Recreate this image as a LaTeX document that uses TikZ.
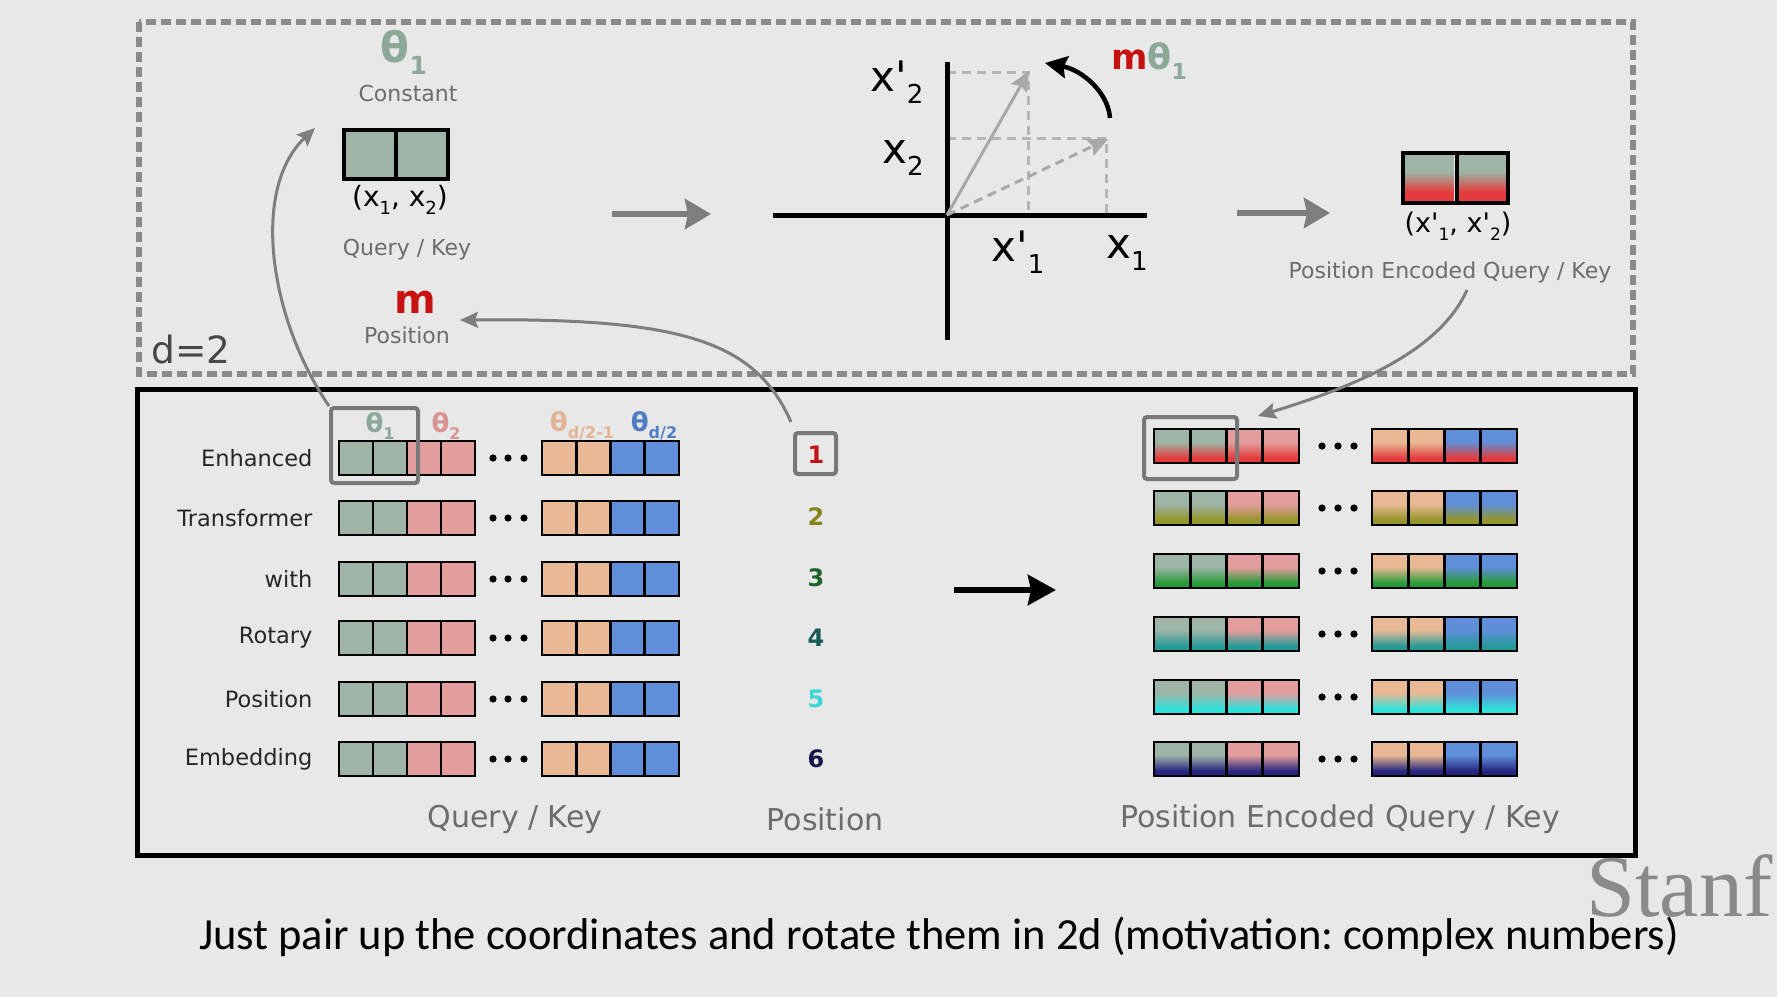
\documentclass[tikz,border=0pt]{standalone}
\usepackage{fontspec}
\setmainfont{DejaVu Sans}
\newfontfamily\capfont{Carlito}
\newfontfamily\serfont{Liberation Serif}
\usetikzlibrary{arrows.meta,calc}
\frenchspacing
\definecolor{bg}{HTML}{E7E8E7}
\definecolor{cg}{HTML}{9DB4A6}
\definecolor{cp}{HTML}{E49D9D}
\definecolor{ct}{HTML}{E8B994}
\definecolor{cb}{HTML}{5F8FD8}
\definecolor{g1}{HTML}{E43C3C}
\definecolor{g2}{HTML}{95952A}
\definecolor{g3}{HTML}{269A36}
\definecolor{g4}{HTML}{259A98}
\definecolor{g5}{HTML}{2EE2DC}
\definecolor{g6}{HTML}{25257E}
\definecolor{n1}{HTML}{C01515}
\definecolor{n2}{HTML}{85851A}
\definecolor{n3}{HTML}{1C6428}
\definecolor{n4}{HTML}{185A55}
\definecolor{n5}{HTML}{3CD6D6}
\definecolor{n6}{HTML}{15154A}
\definecolor{thg}{HTML}{8CA898}
\definecolor{thp}{HTML}{D99393}
\definecolor{tht}{HTML}{E2B496}
\definecolor{thb}{HTML}{4F7FC2}
\definecolor{mred}{HTML}{C81212}
\definecolor{lblc}{HTML}{6C6C6C}
\definecolor{arrc}{HTML}{7E7E7E}
\definecolor{selc}{HTML}{787878}
\definecolor{guidec}{HTML}{B4B6B4}
\definecolor{vecc}{HTML}{A6A9A6}
\definecolor{wmc}{HTML}{8A8A8A}
\newcommand\fsz[1]{\fontsize{#1}{#1}\selectfont}
\newcommand\lowr[2]{\raisebox{-0.28em}{\fontsize{#1}{#1}\selectfont #2}}
\tikzset{
  cellb/.style={draw=black, line width=2.6pt},
  toplbl/.style={text=lblc, font=\fsz{22}},
  botlbl/.style={text=lblc, font=\fsz{30}},
  rowlbl/.style={text=black!85, font=\fsz{22.5}, anchor=east},
  numlbl/.style={font=\fsz{24}\bfseries},
  conn/.style={draw=arrc, line width=3pt, -{Stealth[length=18pt,width=16pt,inset=3pt]}},
  fat/.style={draw=arrc, line width=6pt, -{Stealth[length=26pt,width=30pt,inset=3pt]}},
  selbox/.style={draw=selc, line width=4pt, rounded corners=3pt},
  guide/.style={draw=guidec, line width=3pt, dash pattern=on 9pt off 6pt},
  axis/.style={draw=black, line width=5pt},
  axlbl/.style={font=\fsz{42}},
}
\begin{document}
\begin{tikzpicture}[x=1pt,y=-1pt]
\fill[bg] (0,0) rectangle (1777,997);
\useasboundingbox (0,0) rectangle (1777,997);
% frames
\draw[draw=wmc, line width=5.5pt, dash pattern=on 10pt off 5pt] (139,22) rectangle (1633,374);
\draw[line width=5pt] (137,389) rectangle (1635,855);
% ---------- top part
\node[text=thg, font=\fsz{42}\bfseries] (th1) at (404,52) {θ\lowr{25}{1}};
\node[toplbl] (const) at (408,93) {Constant};
\fill[cg] (344,130) rectangle (448,179);
\draw[line width=3.5pt] (344,130) rectangle (448,179) (396,130) -- (396,179);
\node[font=\fsz{28}] (xx) at (400,200) {(x\lowr{18}{1}, x\lowr{18}{2})};
\node[toplbl] (qk) at (407,250) {Query / Key};
\node[text=mred, font=\fsz{40}\bfseries] (m) at (415,302) {m};
\node[toplbl] (pos) at (407,335) {Position};
\node[text=black!72, font=\fsz{37.5}] (d2) at (191,350) {d=2};
\coordinate (a1s) at (612,214); \coordinate (a1e) at (711,214);
\draw[fat] (a1s) -- (a1e);
% axes
\coordinate (O) at (947,215);
\coordinate (P) at (1108,139);
\coordinate (Q) at (1029,71);
\draw[guide] (947,72) -- (1028,72) -- (1028,215);
\draw[guide] (947,138) -- (1106,138) -- (1106,215);
\draw[axis] (773,215) -- (1147,215);
\draw[axis] (947,62) -- (947,340);
\draw[draw=vecc, line width=3pt, dash pattern=on 9pt off 6pt, -{Stealth[length=20pt,width=18pt,inset=3pt]}] (O) -- (P);
\draw[draw=vecc, line width=3pt, -{Stealth[length=20pt,width=18pt,inset=3pt]}] (O) -- (Q);
\node[axlbl] (lx2p) at (897,82) {x\textquotesingle\lowr{26}{2}};
\node[axlbl] (lx2) at (903,158) {x\lowr{26}{2}};
\node[axlbl] (lx1p) at (1018,252) {x\textquotesingle\lowr{26}{1}};
\node[axlbl] (lx1) at (1127,253) {x\lowr{26}{1}};
\coordinate (rs) at (1110,118); \coordinate (re) at (1045,63);
\draw[line width=4.5pt, -{Stealth[length=22pt,width=22pt,inset=3pt]}] (rs) .. controls (1108,92) and (1082,70) .. (re);
\node[font=\fsz{35}\bfseries] (mth) at (1149,61) {\textcolor{mred}{m}\textcolor{thg}{θ\lowr{22}{1}}};
\coordinate (a2s) at (1237,213); \coordinate (a2e) at (1330,213);
\draw[fat] (a2s) -- (a2e);
\foreach \xx in {1403,1457}{
  \fill[cg] (\xx,153) rectangle ++(51,50);
  \shade[top color=cg, bottom color=g1] (\xx,172) rectangle ++(51,20);
  \fill[g1] (\xx,192) rectangle ++(51,11);
}
\draw[line width=3.5pt] (1403,153) rectangle (1508,203) (1457,153) -- (1457,203);
\node[font=\fsz{27}] (xxp) at (1458,226) {(x\textquotesingle\lowr{17}{1}, x\textquotesingle\lowr{17}{2})};
\node[toplbl] (peqk) at (1450,272) {Position Encoded Query / Key};
% ---------- bottom part: left vectors
\foreach \lab/\y in {Enhanced/458,Transformer/518,with/579,Rotary/638,Position/699,Embedding/759}{
  \node[rowlbl] at (316,\y) {\lab};
  \foreach \c [count=\i from 0] in {cg,cg,cp,cp}{
    \filldraw[fill=\c, cellb] ({339+34*\i},\y-17) rectangle ++(34,34);
  }
  \foreach \c [count=\i from 0] in {ct,ct,cb,cb}{
    \filldraw[fill=\c, cellb] ({542+34.25*\i},\y-17) rectangle ++(34.25,34);
  }
  \foreach \dx in {493,508,524}{ \fill (\dx,\y) circle (3.6pt); }
}
\node[text=thg, font=\fsz{26}\bfseries] at (380,426) {θ\lowr{16}{1}};
\node[text=thp, font=\fsz{26}\bfseries] at (446,426) {θ\lowr{16}{2}};
\node[text=tht, font=\fsz{26}\bfseries] at (582,426) {θ\lowr{16}{d/2-1}};
\node[text=thb, font=\fsz{26}\bfseries] at (654,426) {θ\lowr{16}{d/2}};
\node[selbox, minimum width=87pt, minimum height=75pt] (sel1) at (374.5,445.5) {};
% position numbers
\foreach \n/\y in {1/455,2/517,3/578,4/638,5/699,6/759}{
  \node[numlbl, text=n\n] (num\n) at (816,\y) {\n};
}
\node[selbox, minimum width=41pt, minimum height=41pt] (pbox) at (815.5,453.5) {};
% big arrow
\coordinate (bs) at (954,590); \coordinate (be) at (1056,590);
\draw[line width=6pt, -{Stealth[length=28pt,width=30pt,inset=3pt]}] (bs) -- (be);
% right vectors
\foreach \y/\rc in {446/g1,508/g2,571/g3,634/g4,697/g5,759/g6}{
  \foreach \c [count=\i from 0] in {cg,cg,cp,cp}{
    \pgfmathsetmacro\xx{1154+36.25*\i}
    \fill[\c] (\xx,\y-17) rectangle ++(36.25,34);
    \shade[top color=\c, bottom color=\rc] (\xx,\y-4) rectangle ++(36.25,16);
    \fill[\rc] (\xx,\y+12) rectangle ++(36.25,5);
    \draw[cellb] (\xx,\y-17) rectangle ++(36.25,34);
  }
  \foreach \c [count=\i from 0] in {ct,ct,cb,cb}{
    \pgfmathsetmacro\xx{1372+36.25*\i}
    \fill[\c] (\xx,\y-17) rectangle ++(36.25,34);
    \shade[top color=\c, bottom color=\rc] (\xx,\y-4) rectangle ++(36.25,16);
    \fill[\rc] (\xx,\y+12) rectangle ++(36.25,5);
    \draw[cellb] (\xx,\y-17) rectangle ++(36.25,34);
  }
  \foreach \dx in {1322,1338,1354}{ \fill (\dx,\y) circle (3.6pt); }
}
\node[selbox, minimum width=93pt, minimum height=62pt] (sel2) at (1190.5,448) {};
% bottom labels
\node[botlbl] at (515,819) {Query / Key};
\node[botlbl] at (825,819) {Position};
\node[botlbl] at (1340,819) {Position Encoded Query / Key};
% connectors
\coordinate (t1) at (315,128);
\draw[conn] (sel1.north west) .. controls (270,320) and (250,190) .. (t1);
\coordinate (p1s) at (791,422);
\coordinate (t2) at (460,320);
\draw[conn] (p1s) .. controls (755,340) and (680,318) .. (t2);
\coordinate (p3s) at (1467,290);
\coordinate (t3) at (1258,416);
\draw[conn] (p3s) .. controls (1440,350) and (1360,385) .. (t3);
% caption and watermark
\node[text=wmc, font=\serfont\fsz{88}, anchor=base west] (wm) at (1583,916) {Stanf};
\node[font=\capfont\fsz{44.5}, anchor=base] (cap) at (939,949) {Just pair up the coordinates and rotate them in 2d (motivation: complex numbers)};
\end{tikzpicture}
\end{document}
